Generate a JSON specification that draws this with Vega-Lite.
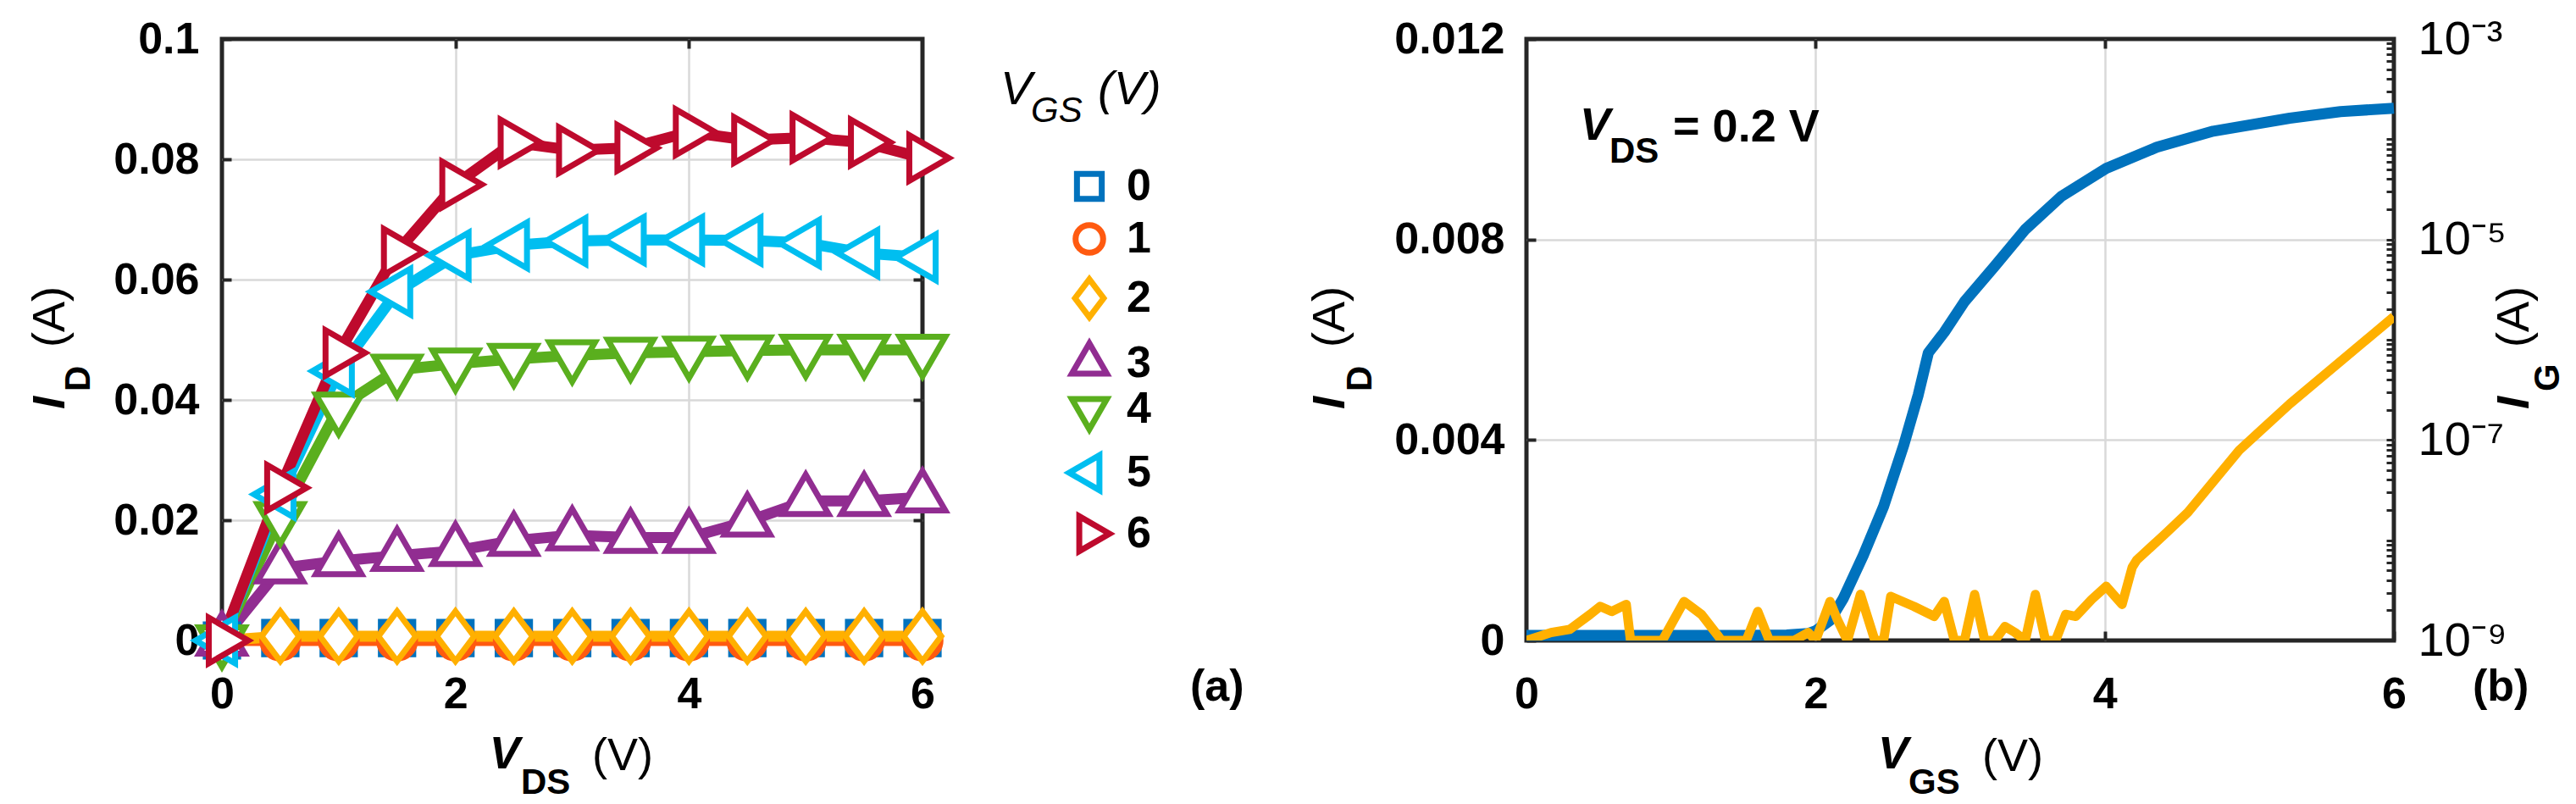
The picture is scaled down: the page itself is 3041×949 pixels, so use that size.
{
  "$schema": "https://vega.github.io/schema/vega-lite/v6.json",
  "background": "white",
  "padding": {"left": 30, "top": 15, "right": 5, "bottom": 5},
  "bounds": "flush",
  "spacing": 713,
  "config": {
    "view": {"stroke": "#262626", "strokeWidth": 5},
    "font": "Liberation Sans",
    "axis": {
      "domain": false,
      "labelFont": "Liberation Sans",
      "labelFontSize": 52,
      "labelFontWeight": "bold",
      "labelColor": "#000000",
      "tickColor": "#262626",
      "tickWidth": 4,
      "tickSize": -11,
      "gridColor": "#d9d9d9",
      "gridWidth": 2.5,
      "gridOpacity": 1,
      "labelFlush": false,
      "labelOverlap": false
    },
    "text": {"font": "Liberation Sans", "color": "#000000"}
  },
  "datasets": {
    "output": [
      {"VGS": 0, "VDS": 0, "ID": 0}, {"VGS": 0, "VDS": 0.5, "ID": 0.0004}, {"VGS": 0, "VDS": 1, "ID": 0.0004}, {"VGS": 0, "VDS": 1.5, "ID": 0.0004}, {"VGS": 0, "VDS": 2, "ID": 0.0004}, {"VGS": 0, "VDS": 2.5, "ID": 0.0004}, {"VGS": 0, "VDS": 3, "ID": 0.0004}, {"VGS": 0, "VDS": 3.5, "ID": 0.0004}, {"VGS": 0, "VDS": 4, "ID": 0.0004}, {"VGS": 0, "VDS": 4.5, "ID": 0.0004}, {"VGS": 0, "VDS": 5, "ID": 0.0004}, {"VGS": 0, "VDS": 5.5, "ID": 0.0004}, {"VGS": 0, "VDS": 6, "ID": 0.0004},
      {"VGS": 1, "VDS": 0, "ID": 0}, {"VGS": 1, "VDS": 0.5, "ID": 0}, {"VGS": 1, "VDS": 1, "ID": 0}, {"VGS": 1, "VDS": 1.5, "ID": 0}, {"VGS": 1, "VDS": 2, "ID": 0}, {"VGS": 1, "VDS": 2.5, "ID": 0}, {"VGS": 1, "VDS": 3, "ID": 0}, {"VGS": 1, "VDS": 3.5, "ID": 0}, {"VGS": 1, "VDS": 4, "ID": 0}, {"VGS": 1, "VDS": 4.5, "ID": 0}, {"VGS": 1, "VDS": 5, "ID": 0}, {"VGS": 1, "VDS": 5.5, "ID": 0}, {"VGS": 1, "VDS": 6, "ID": 0},
      {"VGS": 2, "VDS": 0, "ID": 0}, {"VGS": 2, "VDS": 0.5, "ID": 0.0007}, {"VGS": 2, "VDS": 1, "ID": 0.0007}, {"VGS": 2, "VDS": 1.5, "ID": 0.0007}, {"VGS": 2, "VDS": 2, "ID": 0.0007}, {"VGS": 2, "VDS": 2.5, "ID": 0.0007}, {"VGS": 2, "VDS": 3, "ID": 0.0007}, {"VGS": 2, "VDS": 3.5, "ID": 0.0007}, {"VGS": 2, "VDS": 4, "ID": 0.0007}, {"VGS": 2, "VDS": 4.5, "ID": 0.0007}, {"VGS": 2, "VDS": 5, "ID": 0.0007}, {"VGS": 2, "VDS": 5.5, "ID": 0.0007}, {"VGS": 2, "VDS": 6, "ID": 0.0007},
      {"VGS": 3, "VDS": 0, "ID": 0}, {"VGS": 3, "VDS": 0.5, "ID": 0.012}, {"VGS": 3, "VDS": 1, "ID": 0.0132}, {"VGS": 3, "VDS": 1.5, "ID": 0.0141}, {"VGS": 3, "VDS": 2, "ID": 0.0149}, {"VGS": 3, "VDS": 2.5, "ID": 0.0166}, {"VGS": 3, "VDS": 3, "ID": 0.0175}, {"VGS": 3, "VDS": 3.5, "ID": 0.0171}, {"VGS": 3, "VDS": 4, "ID": 0.0171}, {"VGS": 3, "VDS": 4.5, "ID": 0.0198}, {"VGS": 3, "VDS": 5, "ID": 0.0232}, {"VGS": 3, "VDS": 5.5, "ID": 0.0232}, {"VGS": 3, "VDS": 6, "ID": 0.0238},
      {"VGS": 4, "VDS": 0, "ID": 0}, {"VGS": 4, "VDS": 0.5, "ID": 0.0205}, {"VGS": 4, "VDS": 1, "ID": 0.0387}, {"VGS": 4, "VDS": 1.5, "ID": 0.045}, {"VGS": 4, "VDS": 2, "ID": 0.046}, {"VGS": 4, "VDS": 2.5, "ID": 0.0468}, {"VGS": 4, "VDS": 3, "ID": 0.0474}, {"VGS": 4, "VDS": 3.5, "ID": 0.0478}, {"VGS": 4, "VDS": 4, "ID": 0.048}, {"VGS": 4, "VDS": 4.5, "ID": 0.0482}, {"VGS": 4, "VDS": 5, "ID": 0.0483}, {"VGS": 4, "VDS": 5.5, "ID": 0.0483}, {"VGS": 4, "VDS": 6, "ID": 0.0483},
      {"VGS": 5, "VDS": 0, "ID": 0}, {"VGS": 5, "VDS": 0.5, "ID": 0.0243}, {"VGS": 5, "VDS": 1, "ID": 0.0448}, {"VGS": 5, "VDS": 1.5, "ID": 0.058}, {"VGS": 5, "VDS": 2, "ID": 0.064}, {"VGS": 5, "VDS": 2.5, "ID": 0.0657}, {"VGS": 5, "VDS": 3, "ID": 0.0664}, {"VGS": 5, "VDS": 3.5, "ID": 0.0666}, {"VGS": 5, "VDS": 4, "ID": 0.0666}, {"VGS": 5, "VDS": 4.5, "ID": 0.0665}, {"VGS": 5, "VDS": 5, "ID": 0.0661}, {"VGS": 5, "VDS": 5.5, "ID": 0.0644}, {"VGS": 5, "VDS": 6, "ID": 0.0637},
      {"VGS": 6, "VDS": 0, "ID": 0}, {"VGS": 6, "VDS": 0.5, "ID": 0.0254}, {"VGS": 6, "VDS": 1, "ID": 0.0478}, {"VGS": 6, "VDS": 1.5, "ID": 0.0646}, {"VGS": 6, "VDS": 2, "ID": 0.0758}, {"VGS": 6, "VDS": 2.5, "ID": 0.0828}, {"VGS": 6, "VDS": 3, "ID": 0.0815}, {"VGS": 6, "VDS": 3.5, "ID": 0.0819}, {"VGS": 6, "VDS": 4, "ID": 0.0845}, {"VGS": 6, "VDS": 4.5, "ID": 0.0832}, {"VGS": 6, "VDS": 5, "ID": 0.0836}, {"VGS": 6, "VDS": 5.5, "ID": 0.0828}, {"VGS": 6, "VDS": 6, "ID": 0.0802}
    ],
    "transfer": [
      {"VGS": 0, "ID": 0.0001}, {"VGS": 0.5, "ID": 0.0001}, {"VGS": 1, "ID": 0.0001}, {"VGS": 1.5, "ID": 0.0001}, {"VGS": 1.8, "ID": 0.00011}, {"VGS": 1.95, "ID": 0.00014}, {"VGS": 2.0, "ID": 0.00019}, {"VGS": 2.1, "ID": 0.0004}, {"VGS": 2.19, "ID": 0.00083}, {"VGS": 2.33, "ID": 0.0017}, {"VGS": 2.47, "ID": 0.00267}, {"VGS": 2.61, "ID": 0.0039}, {"VGS": 2.71, "ID": 0.0049}, {"VGS": 2.78, "ID": 0.00574}, {"VGS": 2.89, "ID": 0.00615}, {"VGS": 3.03, "ID": 0.00676}, {"VGS": 3.24, "ID": 0.00747}, {"VGS": 3.45, "ID": 0.0082}, {"VGS": 3.7, "ID": 0.00886}, {"VGS": 4.01, "ID": 0.00942}, {"VGS": 4.36, "ID": 0.00984}, {"VGS": 4.75, "ID": 0.01016}, {"VGS": 5.28, "ID": 0.01042}, {"VGS": 5.63, "ID": 0.01055}, {"VGS": 6.0, "ID": 0.01062}
    ],
    "gate": [
      {"VGS": 0, "IG": 1e-9}, {"VGS": 0.17, "IG": 1.2e-9}, {"VGS": 0.3, "IG": 1.29e-9}, {"VGS": 0.44, "IG": 1.82e-9}, {"VGS": 0.51, "IG": 2.19e-9}, {"VGS": 0.59, "IG": 1.95e-9}, {"VGS": 0.69, "IG": 2.29e-9}, {"VGS": 0.72, "IG": 1e-9}, {"VGS": 0.94, "IG": 1e-9}, {"VGS": 1.09, "IG": 2.45e-9}, {"VGS": 1.21, "IG": 1.82e-9}, {"VGS": 1.35, "IG": 1e-9}, {"VGS": 1.52, "IG": 1e-9}, {"VGS": 1.6, "IG": 1.95e-9}, {"VGS": 1.68, "IG": 1e-9}, {"VGS": 1.85, "IG": 1e-9}, {"VGS": 1.95, "IG": 1.2e-9}, {"VGS": 2.0, "IG": 1e-9}, {"VGS": 2.1, "IG": 2.45e-9}, {"VGS": 2.15, "IG": 1.62e-9}, {"VGS": 2.22, "IG": 1e-9}, {"VGS": 2.31, "IG": 2.88e-9}, {"VGS": 2.41, "IG": 1e-9}, {"VGS": 2.47, "IG": 1e-9}, {"VGS": 2.52, "IG": 2.75e-9}, {"VGS": 2.68, "IG": 2.19e-9}, {"VGS": 2.82, "IG": 1.74e-9}, {"VGS": 2.89, "IG": 2.45e-9}, {"VGS": 2.96, "IG": 1e-9}, {"VGS": 3.03, "IG": 1e-9}, {"VGS": 3.1, "IG": 2.88e-9}, {"VGS": 3.17, "IG": 1e-9}, {"VGS": 3.24, "IG": 1e-9}, {"VGS": 3.31, "IG": 1.38e-9}, {"VGS": 3.38, "IG": 1.2e-9}, {"VGS": 3.45, "IG": 1e-9}, {"VGS": 3.52, "IG": 2.88e-9}, {"VGS": 3.59, "IG": 1e-9}, {"VGS": 3.66, "IG": 1e-9}, {"VGS": 3.73, "IG": 1.82e-9}, {"VGS": 3.8, "IG": 1.74e-9}, {"VGS": 3.91, "IG": 2.57e-9}, {"VGS": 4.01, "IG": 3.47e-9}, {"VGS": 4.12, "IG": 2.29e-9}, {"VGS": 4.19, "IG": 5.37e-9}, {"VGS": 4.22, "IG": 6.31e-9}, {"VGS": 4.43, "IG": 1.2e-8}, {"VGS": 4.575, "IG": 1.9e-8}, {"VGS": 4.93, "IG": 7.9e-8}, {"VGS": 5.28, "IG": 2.29e-7}, {"VGS": 6.0, "IG": 1.7e-6}
    ]
  },
  "hconcat": [
    {
      "width": 827,
      "height": 710,
      "data": {"name": "output"},
      "layer": [
        {
          "mark": {"type": "line", "strokeWidth": 13, "strokeJoin": "round"},
          "encoding": {
            "x": {"field": "VDS", "type": "quantitative", "scale": {"domain": [0, 6], "nice": false}, "axis": {"orient": "bottom", "values": [0, 2, 4, 6], "title": null, "grid": false, "labelPadding": 49}},
            "y": {"field": "ID", "type": "quantitative", "scale": {"domain": [0, 0.1], "nice": false}, "axis": {"orient": "left", "values": [0, 0.02, 0.04, 0.06, 0.08, 0.1], "title": null, "grid": false, "labelPadding": 38, "labelExpr": "format(datum.value, '~g')"}},
            "stroke": {"field": "VGS", "type": "nominal", "scale": {"domain": [0, 1, 2, 3, 4, 5, 6], "range": ["#0072BD", "#FF5A10", "#FFB000", "#912D91", "#5AAF1E", "#00BEF0", "#BE0A2D"]},
              "legend": {"title": null, "orient": "none", "legendX": 998, "legendY": 148, "padding": 0, "labelFont": "Liberation Sans", "labelFontSize": 52, "labelFontWeight": "bold", "labelColor": "#000000", "symbolStrokeWidth": 7, "symbolSize": 1700, "symbolFillColor": "white", "rowPadding": 2, "labelOffset": 18}}
          }
        },
        {
          "mark": {"type": "point", "filled": false, "fill": "white", "strokeWidth": 7, "size": 2900, "opacity": 1, "strokeJoin": "miter"},
          "encoding": {
            "x": {"field": "VDS", "type": "quantitative", "scale": {"domain": [0, 6], "nice": false}, "axis": {"orient": "top", "values": [2, 4], "title": null, "labels": false, "grid": true}},
            "y": {"field": "ID", "type": "quantitative", "scale": {"domain": [0, 0.1], "nice": false}, "axis": {"orient": "right", "values": [0.02, 0.04, 0.06, 0.08], "title": null, "labels": false, "grid": true}},
            "stroke": {"field": "VGS", "type": "nominal", "scale": {"domain": [0, 1, 2, 3, 4, 5, 6], "range": ["#0072BD", "#FF5A10", "#FFB000", "#912D91", "#5AAF1E", "#00BEF0", "#BE0A2D"]},
              "legend": {"title": null, "orient": "none", "legendX": 998, "legendY": 148, "padding": 0, "labelFont": "Liberation Sans", "labelFontSize": 52, "labelFontWeight": "bold", "labelColor": "#000000", "symbolStrokeWidth": 7, "symbolSize": 1700, "symbolFillColor": "white", "rowPadding": 2, "labelOffset": 18}},
            "shape": {"field": "VGS", "type": "nominal", "scale": {"domain": [0, 1, 2, 3, 4, 5, 6], "range": ["M-0.71,-0.71L0.71,-0.71L0.71,0.71L-0.71,0.71Z", "M0.79,0A0.79,0.79,0,1,1,-0.79,0A0.79,0.79,0,1,1,0.79,0Z", "M0,-1.09L0.82,0L0,1.09L-0.82,0Z", "M0,-1.155L1,0.577L-1,0.577Z", "M0,1.155L1,-0.577L-1,-0.577Z", "M-1.155,0L0.577,-1L0.577,1Z", "M1.155,0L-0.577,-1L-0.577,1Z"]},
              "legend": {"title": null, "orient": "none", "legendX": 998, "legendY": 148, "padding": 0, "labelFont": "Liberation Sans", "labelFontSize": 52, "labelFontWeight": "bold", "labelColor": "#000000", "symbolStrokeWidth": 7, "symbolSize": 1700, "symbolFillColor": "white", "rowPadding": 2, "labelOffset": 18}}
          }
        },
        {"data": {"values": [{}]}, "mark": {"type": "text", "text": "V", "fontSize": 54, "fontWeight": "bold", "fontStyle": "italic", "align": "left", "baseline": "alphabetic"},
          "encoding": {"x": {"datum": 2.29, "scale": {"domain": [0, 6], "nice": false}, "axis": null}, "y": {"datum": -0.0213, "scale": {"domain": [0, 0.1], "nice": false}, "axis": null}}},
        {"data": {"values": [{}]}, "mark": {"type": "text", "text": "DS", "fontSize": 42, "fontWeight": "bold", "align": "left", "baseline": "alphabetic"},
          "encoding": {"x": {"datum": 2.561, "scale": {"domain": [0, 6], "nice": false}, "axis": null}, "y": {"datum": -0.0255, "scale": {"domain": [0, 0.1], "nice": false}, "axis": null}}},
        {"data": {"values": [{}]}, "mark": {"type": "text", "text": "(V)", "fontSize": 54, "fontWeight": "normal", "align": "left", "baseline": "alphabetic"},
          "encoding": {"x": {"datum": 3.171, "scale": {"domain": [0, 6], "nice": false}, "axis": null}, "y": {"datum": -0.0215, "scale": {"domain": [0, 0.1], "nice": false}, "axis": null}}},
        {"data": {"values": [{}]}, "mark": {"type": "text", "text": "I", "fontSize": 54, "fontWeight": "bold", "fontStyle": "italic", "align": "left", "baseline": "alphabetic", "angle": 270},
          "encoding": {"x": {"datum": -1.349, "scale": {"domain": [0, 6], "nice": false}, "axis": null}, "y": {"datum": 0.03845, "scale": {"domain": [0, 0.1], "nice": false}, "axis": null}}},
        {"data": {"values": [{}]}, "mark": {"type": "text", "text": "D", "fontSize": 42, "fontWeight": "bold", "align": "left", "baseline": "alphabetic", "angle": 270},
          "encoding": {"x": {"datum": -1.132, "scale": {"domain": [0, 6], "nice": false}, "axis": null}, "y": {"datum": 0.04141, "scale": {"domain": [0, 0.1], "nice": false}, "axis": null}}},
        {"data": {"values": [{}]}, "mark": {"type": "text", "text": "(A)", "fontSize": 54, "fontWeight": "normal", "align": "left", "baseline": "alphabetic", "angle": 270},
          "encoding": {"x": {"datum": -1.349, "scale": {"domain": [0, 6], "nice": false}, "axis": null}, "y": {"datum": 0.04873, "scale": {"domain": [0, 0.1], "nice": false}, "axis": null}}},
        {"data": {"values": [{}]}, "mark": {"type": "text", "text": "V", "fontSize": 56, "fontWeight": "normal", "fontStyle": "italic", "align": "left", "baseline": "alphabetic"},
          "encoding": {"x": {"datum": 6.668, "scale": {"domain": [0, 6], "nice": false}, "axis": null}, "y": {"datum": 0.08915, "scale": {"domain": [0, 0.1], "nice": false}, "axis": null}}},
        {"data": {"values": [{}]}, "mark": {"type": "text", "text": "GS", "fontSize": 42, "fontWeight": "normal", "fontStyle": "italic", "align": "left", "baseline": "alphabetic"},
          "encoding": {"x": {"datum": 6.929, "scale": {"domain": [0, 6], "nice": false}, "axis": null}, "y": {"datum": 0.0862, "scale": {"domain": [0, 0.1], "nice": false}, "axis": null}}},
        {"data": {"values": [{}]}, "mark": {"type": "text", "text": "(V)", "fontSize": 56, "fontWeight": "normal", "fontStyle": "italic", "align": "left", "baseline": "alphabetic"},
          "encoding": {"x": {"datum": 7.502, "scale": {"domain": [0, 6], "nice": false}, "axis": null}, "y": {"datum": 0.08915, "scale": {"domain": [0, 0.1], "nice": false}, "axis": null}}},
        {"data": {"values": [{}]}, "mark": {"type": "text", "text": "(a)", "fontSize": 52, "fontWeight": "bold", "align": "left", "baseline": "alphabetic"},
          "encoding": {"x": {"datum": 8.293, "scale": {"domain": [0, 6], "nice": false}, "axis": null}, "y": {"datum": -0.01, "scale": {"domain": [0, 0.1], "nice": false}, "axis": null}}}
      ],
      "resolve": {"axis": {"x": "independent", "y": "independent"}}
    },
    {
      "width": 1024,
      "height": 710,
      "layer": [
        {
          "layer": [
            {
              "data": {"name": "transfer"},
              "mark": {"type": "line", "strokeWidth": 13, "color": "#0072BD", "strokeJoin": "round"},
              "encoding": {
                "x": {"field": "VGS", "type": "quantitative", "scale": {"domain": [0, 6], "nice": false}, "axis": {"orient": "bottom", "values": [0, 2, 4, 6], "title": null, "grid": false, "labelPadding": 49}},
                "y": {"field": "ID", "type": "quantitative", "scale": {"domain": [0, 0.012], "nice": false}, "axis": {"orient": "left", "values": [0, 0.004, 0.008, 0.012], "title": null, "grid": false, "labelPadding": 37, "labelExpr": "format(datum.value, '~g')"}}
              }
            },
            {"data": {"values": [{}]}, "mark": {"type": "text", "text": "V", "fontSize": 54, "fontWeight": "bold", "fontStyle": "italic", "align": "left", "baseline": "alphabetic"},
              "encoding": {"x": {"datum": 0.369, "scale": {"domain": [0, 6], "nice": false}, "axis": null}, "y": {"datum": 0.00999, "scale": {"domain": [0, 0.012], "nice": false}, "axis": {"orient": "left", "values": [0.004, 0.008], "title": null, "labels": false, "ticks": false, "grid": true}}}},
            {"data": {"values": [{}]}, "mark": {"type": "text", "text": "DS", "fontSize": 42, "fontWeight": "bold", "align": "left", "baseline": "alphabetic"},
              "encoding": {"x": {"datum": 0.574, "scale": {"domain": [0, 6], "nice": false}, "axis": null}, "y": {"datum": 0.009532, "scale": {"domain": [0, 0.012], "nice": false}, "axis": null}}},
            {"data": {"values": [{}]}, "mark": {"type": "text", "text": "= 0.2 V", "fontSize": 54, "fontWeight": "bold", "align": "left", "baseline": "alphabetic"},
              "encoding": {"x": {"datum": 1.014, "scale": {"domain": [0, 6], "nice": false}, "axis": null}, "y": {"datum": 0.009955, "scale": {"domain": [0, 0.012], "nice": false}, "axis": null}}},
            {"data": {"values": [{}]}, "mark": {"type": "text", "text": "V", "fontSize": 54, "fontWeight": "bold", "fontStyle": "italic", "align": "left", "baseline": "alphabetic"},
              "encoding": {"x": {"datum": 2.432, "scale": {"domain": [0, 6], "nice": false}, "axis": null}, "y": {"datum": -0.002552, "scale": {"domain": [0, 0.012], "nice": false}, "axis": null}}},
            {"data": {"values": [{}]}, "mark": {"type": "text", "text": "GS", "fontSize": 42, "fontWeight": "bold", "align": "left", "baseline": "alphabetic"},
              "encoding": {"x": {"datum": 2.643, "scale": {"domain": [0, 6], "nice": false}, "axis": null}, "y": {"datum": -0.003059, "scale": {"domain": [0, 0.012], "nice": false}, "axis": null}}},
            {"data": {"values": [{}]}, "mark": {"type": "text", "text": "(V)", "fontSize": 54, "fontWeight": "normal", "align": "left", "baseline": "alphabetic"},
              "encoding": {"x": {"datum": 3.152, "scale": {"domain": [0, 6], "nice": false}, "axis": null}, "y": {"datum": -0.0026, "scale": {"domain": [0, 0.012], "nice": false}, "axis": null}}},
            {"data": {"values": [{}]}, "mark": {"type": "text", "text": "I", "fontSize": 54, "fontWeight": "bold", "fontStyle": "italic", "align": "left", "baseline": "alphabetic", "angle": 270},
              "encoding": {"x": {"datum": -1.26, "scale": {"domain": [0, 6], "nice": false}, "axis": null}, "y": {"datum": 0.004614, "scale": {"domain": [0, 0.012], "nice": false}, "axis": null}}},
            {"data": {"values": [{}]}, "mark": {"type": "text", "text": "D", "fontSize": 42, "fontWeight": "bold", "align": "left", "baseline": "alphabetic", "angle": 270},
              "encoding": {"x": {"datum": -1.072, "scale": {"domain": [0, 6], "nice": false}, "axis": null}, "y": {"datum": 0.004969, "scale": {"domain": [0, 0.012], "nice": false}, "axis": null}}},
            {"data": {"values": [{}]}, "mark": {"type": "text", "text": "(A)", "fontSize": 54, "fontWeight": "normal", "align": "left", "baseline": "alphabetic", "angle": 270},
              "encoding": {"x": {"datum": -1.26, "scale": {"domain": [0, 6], "nice": false}, "axis": null}, "y": {"datum": 0.005848, "scale": {"domain": [0, 0.012], "nice": false}, "axis": null}}},
            {"data": {"values": [{}]}, "mark": {"type": "text", "text": "I", "fontSize": 54, "fontWeight": "bold", "fontStyle": "italic", "align": "left", "baseline": "alphabetic", "angle": 270},
              "encoding": {"x": {"datum": 6.932, "scale": {"domain": [0, 6], "nice": false}, "axis": null}, "y": {"datum": 0.004614, "scale": {"domain": [0, 0.012], "nice": false}, "axis": null}}},
            {"data": {"values": [{}]}, "mark": {"type": "text", "text": "G", "fontSize": 42, "fontWeight": "bold", "align": "left", "baseline": "alphabetic", "angle": 270},
              "encoding": {"x": {"datum": 7.143, "scale": {"domain": [0, 6], "nice": false}, "axis": null}, "y": {"datum": 0.004969, "scale": {"domain": [0, 0.012], "nice": false}, "axis": null}}},
            {"data": {"values": [{}]}, "mark": {"type": "text", "text": "(A)", "fontSize": 54, "fontWeight": "normal", "align": "left", "baseline": "alphabetic", "angle": 270},
              "encoding": {"x": {"datum": 6.932, "scale": {"domain": [0, 6], "nice": false}, "axis": null}, "y": {"datum": 0.005848, "scale": {"domain": [0, 0.012], "nice": false}, "axis": null}}},
            {"data": {"values": [{}]}, "mark": {"type": "text", "text": "(b)", "fontSize": 52, "fontWeight": "bold", "align": "left", "baseline": "alphabetic"},
              "encoding": {"x": {"datum": 6.545, "scale": {"domain": [0, 6], "nice": false}, "axis": null}, "y": {"datum": -0.0012, "scale": {"domain": [0, 0.012], "nice": false}, "axis": null}}}
          ],
          "resolve": {"axis": {"x": "independent", "y": "independent"}}
        },
        {
          "data": {"name": "gate"},
          "mark": {"type": "line", "strokeWidth": 11, "color": "#FFB000", "clip": true, "strokeJoin": "round"},
          "encoding": {
            "x": {"field": "VGS", "type": "quantitative", "scale": {"domain": [0, 6], "nice": false}, "axis": {"orient": "top", "values": [2, 4], "title": null, "labels": false, "grid": true}},
            "y": {"field": "IG", "type": "quantitative", "scale": {"type": "log", "domain": [1e-9, 0.001], "nice": false}, "axis": {"orient": "right", "title": null, "grid": false, "tickSize": -9, "tickWidth": 3, "labelPadding": 37, "labelFontWeight": "normal", "labelFontSize": 56,
              "values": [1e-9, 2e-9, 3e-9, 4e-9, 5e-9, 6e-9, 7e-9, 8e-9, 9e-9, 1e-8, 2e-8, 3e-8, 4e-8, 5e-8, 6e-8, 7e-8, 8e-8, 9e-8, 1e-7, 2e-7, 3e-7, 4e-7, 5e-7, 6e-7, 7e-7, 8e-7, 9e-7, 1e-6, 2e-6, 3e-6, 4e-6, 5e-6, 6e-6, 7e-6, 8e-6, 9e-6, 1e-5, 2e-5, 3e-5, 4e-5, 5e-5, 6e-5, 7e-5, 8e-5, 9e-5, 1e-4, 2e-4, 3e-4, 4e-4, 5e-4, 6e-4, 7e-4, 8e-4, 9e-4, 1e-3],
              "labelExpr": "datum.value > 9.5e-4 ? '10⁻³' : (datum.value > 9.5e-6 && datum.value < 1.05e-5) ? '10⁻⁵' : (datum.value > 9.5e-8 && datum.value < 1.05e-7) ? '10⁻⁷' : (datum.value < 1.05e-9) ? '10⁻⁹' : ''"}}
          }
        }
      ],
      "resolve": {"scale": {"y": "independent"}, "axis": {"x": "independent", "y": "independent"}}
    }
  ]
}
